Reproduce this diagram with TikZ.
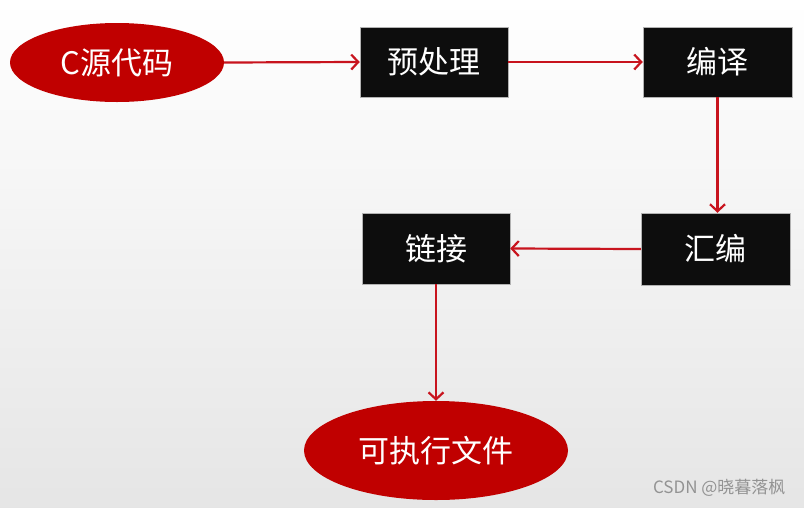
\documentclass[tikz,border=0pt]{standalone}
\usepackage{fontspec}
\newfontfamily\cjk{Noto Sans CJK SC}
\usetikzlibrary{shapes.geometric,arrows.meta}
\definecolor{dred}{HTML}{C00000}
\definecolor{boxblack}{HTML}{0D0D0D}
\definecolor{arrred}{HTML}{C8141E}
\tikzset{
  redell/.style={ellipse, fill=dred, draw=none, text=white, font=\cjk\fontsize{31}{34}\selectfont, inner sep=0pt},
  blackbox/.style={rectangle, fill=boxblack, draw=gray!60, line width=0.5pt, text=white, font=\cjk\fontsize{31}{34}\selectfont, inner sep=0pt},
  conn/.style={draw=arrred, line width=2.2pt, -{Straight Barb[length=7pt,width=15pt,line width=2.2pt]}}
}
\begin{document}
\begin{tikzpicture}[x=1pt,y=-1pt]
\shade[top color=white, bottom color=black!10] (0,0) rectangle (804,507);
\useasboundingbox (0,0) rectangle (804,507);
\node[redell, minimum width=214pt, minimum height=79pt] (src) at (117,62.5) {C源代码};
\node[blackbox, minimum width=148pt, minimum height=70pt] (pre) at (434,62) {预处理};
\node[blackbox, minimum width=149pt, minimum height=70pt] (comp) at (717.5,62) {编译};
\node[blackbox, minimum width=149pt, minimum height=72pt] (asm) at (715.5,249) {汇编};
\node[blackbox, minimum width=148pt, minimum height=71pt] (link) at (436,248.5) {链接};
\node[redell, minimum width=264pt, minimum height=99pt] (exe) at (436,450.5) {可执行文件};
\node[font=\cjk\fontsize{17}{19}\selectfont, text=gray!85, anchor=east] (wm) at (789,488) {CSDN @晓暮落枫};
\draw[conn] (src.east) -- (pre.west);
\draw[conn] (pre.east) -- (comp.west);
\draw[conn] (comp.south) -- (asm.north -| comp.south);
\draw[conn] (asm.west) -- (link.east);
\draw[conn] (link.south) -- (exe.north);
\end{tikzpicture}
\end{document}
